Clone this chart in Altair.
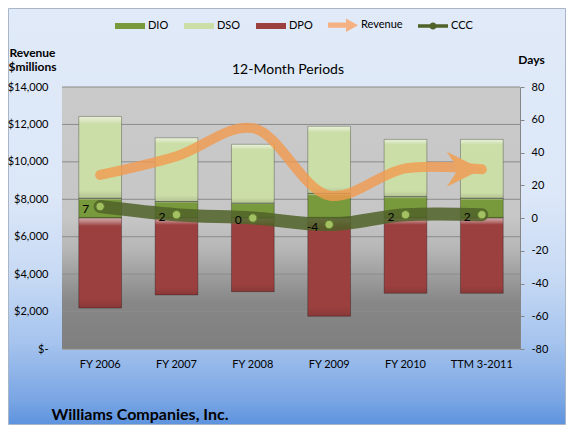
import altair as alt
import pandas as pd

# ---- data ----
periods = ["FY 2006", "FY 2007", "FY 2008", "FY 2009", "FY 2010", "TTM 3-2011"]
dio = [12, 10, 9, 15, 13, 12]
dso = [50, 39, 36, 41, 35, 36]
dpo = [55, 47, 45, 60, 46, 46]
ccc = [7, 2, 0, -4, 2, 2]
revenue = [9300, 10300, 11800, 8200, 9650, 9600]
revenue_ticks = [0, 2000, 4000, 6000, 8000, 10000, 12000, 14000]
days_ticks = [-80, -60, -40, -20, 0, 20, 40, 60, 80]
series = ["DIO", "DSO", "DPO", "Revenue", "CCC"]
series_colors = ["#789A3C", "#CCDEA8", "#9B403F", "#F4B183", "#4F6228"]

W, H = 458, 262
PAD = {"left": 54, "top": 79, "right": 46, "bottom": 76}

rows = []
for i, p in enumerate(periods):
    rows.append({"period": p, "series": "DIO", "ord": 0, "days": dio[i]})
    rows.append({"period": p, "series": "DSO", "ord": 1, "days": dso[i]})
    rows.append({"period": p, "series": "DPO", "ord": 2, "days": -dpo[i]})
bars_df = pd.DataFrame(rows)
lines_df = pd.DataFrame({
    "period": periods, "ccc": ccc, "ccc_label": [str(v) for v in ccc], "revenue": revenue,
})


def grad(stops):
    return alt.Gradient(
        gradient="linear", x1=0, x2=0, y1=0, y2=1,
        stops=[alt.GradientStop(offset=o, color=c) for o, c in stops],
    )


bg_grad = grad([(0, "#E0EAF8"), (0.45, "#DCE7F8"), (0.65, "#C6D9F4"),
                (0.8, "#A6C4EE"), (0.94, "#7AA6E4"), (1, "#5D93DE")])
plot_grad = grad([(0, "#CACACA"), (0.5, "#C6C6C6"), (0.62, "#B6B6B6"),
                  (0.72, "#9E9E9E"), (0.82, "#878787"), (1, "#7F7F7F")])
gloss_grad = grad([(0, "rgba(255,255,255,0.55)"), (0.04, "rgba(255,255,255,0.35)"),
                   (0.09, "rgba(255,255,255,0)"), (0.9, "rgba(0,0,0,0)"),
                   (1, "rgba(0,0,0,0.12)")])

days_scale = alt.Scale(domain=[-80, 80], nice=False, zero=False)
rev_scale = alt.Scale(domain=[0, 14000], nice=False)

x_axis = alt.Axis(
    title="Williams Companies, Inc.", titleX=-11, titleY=65, titleAlign="left",
    titleBaseline="middle", titleFontSize=16, titleFontWeight="bold", titleColor="#000",
    labelAngle=0, labelPadding=9, labelFontSize=11, labelColor="#000",
    ticks=False, domain=True, domainColor="#A0A0A0", grid=False, zindex=1,
)
x_enc = alt.X("period:N", sort=periods,
              scale=alt.Scale(domain=periods, paddingInner=0.44, paddingOuter=0.22),
              axis=x_axis)

rev_axis = alt.Axis(
    orient="left", values=revenue_ticks,
    labelExpr="datum.value == 0 ? '$-\u00a0' : '$' + format(datum.value, ',')",
    ticks=False, domain=False, grid=False, labelPadding=14, labelFontSize=11,
    labelColor="#000", title=["Revenue", "$millions"], titleAngle=0, titleX=-30,
    titleY=-35, titleAlign="center", titleBaseline="middle", titleFontSize=12,
    titleFontWeight="bold", titleColor="#000", titleLineHeight=14, zindex=1,
)
days_axis = alt.Axis(
    orient="right", values=days_ticks, labelExpr="'' + datum.value",
    grid=False, domain=True, domainColor="#868686",
    ticks=True, tickColor="#868686", tickSize=4, labelPadding=7, labelFontSize=11,
    labelColor="#000", title="Days", titleAngle=0, titleX=11, titleY=-28,
    titleAlign="center", titleBaseline="middle", titleFontSize=12,
    titleFontWeight="bold", titleColor="#000", zindex=1,
)

bar_path = "M-1,-0.2H1V0.2H-1Z"
arrow_path = "M-1,-0.17H0.2V-0.45L1,0L0.2,0.45V0.17H-1Z"
ccc_path = ("M-1,-0.12H1V0.12H-1Z "
            "M-0.24,0A0.24,0.24,0,1,1,0.24,0A0.24,0.24,0,1,1,-0.24,0Z")
shape_expr = ("datum.value == 'Revenue' ? '" + arrow_path + "' : datum.value == 'CCC' ? '"
              + ccc_path + "' : '" + bar_path + "'")

legend = alt.Legend(
    orient="none", legendX=53, legendY=-77, direction="horizontal", title=None,
    symbolType={"expr": shape_expr}, symbolSize=900, symbolStrokeWidth=0,
    labelOffset=3, columnPadding=15, labelFontSize=11, labelColor="#000",
    padding=0, zindex=1,
)

one = alt.Data(values=[{"t": "12-Month Periods"}])

bg = alt.Chart(one).mark_rect(fill=bg_grad, stroke="#A9B6C8", strokeWidth=1).encode(
    x=alt.value(-PAD["left"] + 0.5), x2=alt.value(W + PAD["right"] - 0.5),
    y=alt.value(-PAD["top"] + 0.5), y2=alt.value(H + PAD["bottom"] - 0.5),
)
plotbg = alt.Chart(one).mark_rect(fill=plot_grad).encode(
    x=alt.value(0), x2=alt.value(W), y=alt.value(0), y2=alt.value(H),
)
grid = alt.Chart(pd.DataFrame({"v": revenue_ticks})).mark_rule(
    color="#8C8C8C", strokeWidth=1
).encode(y=alt.Y("v:Q", scale=rev_scale, axis=None))

bars = alt.Chart(bars_df).mark_bar().encode(
    x=x_enc,
    y=alt.Y("days:Q", stack="zero", scale=days_scale, axis=days_axis),
    color=alt.Color("series:N", scale=alt.Scale(domain=series, range=series_colors),
                    legend=legend),
    order=alt.Order("ord:Q"),
)
gloss = alt.Chart(bars_df).mark_bar(
    fill=gloss_grad, stroke="#000000", strokeOpacity=0.28, strokeWidth=1
).encode(
    x=x_enc,
    y=alt.Y("days:Q", stack="zero", scale=days_scale, axis=None),
    detail="series:N",
    order=alt.Order("ord:Q"),
)

ccc_line = alt.Chart(lines_df).mark_line(
    interpolate="catmull-rom", strokeWidth=13, strokeCap="round",
    color="#4F6228", opacity=0.85,
).encode(x=x_enc, y=alt.Y("ccc:Q", scale=days_scale, axis=None))
ccc_pts = alt.Chart(lines_df).mark_point(
    filled=True, fill="#A3C163", stroke="#5C7A2A", strokeWidth=1, size=70, opacity=1,
).encode(x=x_enc, y=alt.Y("ccc:Q", scale=days_scale, axis=None))
ccc_txt = alt.Chart(lines_df).mark_text(
    align="right", baseline="middle", dx=-11, dy=2, fontSize=12, color="#000",
).encode(x=x_enc, y=alt.Y("ccc:Q", scale=days_scale, axis=None), text="ccc_label:N")

rev_line = alt.Chart(lines_df).mark_line(
    interpolate="catmull-rom", strokeWidth=10, strokeCap="round",
    color="#F39A4E", opacity=0.8,
).encode(x=x_enc, y=alt.Y("revenue:Q", scale=rev_scale, axis=rev_axis))
rev_head = alt.Chart(lines_df).transform_filter(
    alt.datum.period == periods[-1]
).mark_point(
    shape="M0,0L-2,-1L-1.35,0L-2,1Z", filled=True, size=1225,
    color="#EAA562", opacity=1, strokeWidth=0,
).encode(x=x_enc, y=alt.Y("revenue:Q", scale=rev_scale, axis=None))

title_txt = alt.Chart(one).mark_text(
    fontSize=14, align="center", baseline="middle", color="#000",
).encode(x=alt.value(226), y=alt.value(-17), text="t:N")

chart = alt.layer(
    bg, plotbg, grid, bars, gloss, ccc_line, ccc_pts, ccc_txt, rev_line, rev_head, title_txt
).resolve_scale(y="independent").properties(
    width=W, height=H, autosize=alt.AutoSizeParams(type="none"), padding=PAD,
).configure(font="Lato").configure_view(stroke=None)

chart.save("out.html", embed_options={"renderer": "svg", "actions": False})
